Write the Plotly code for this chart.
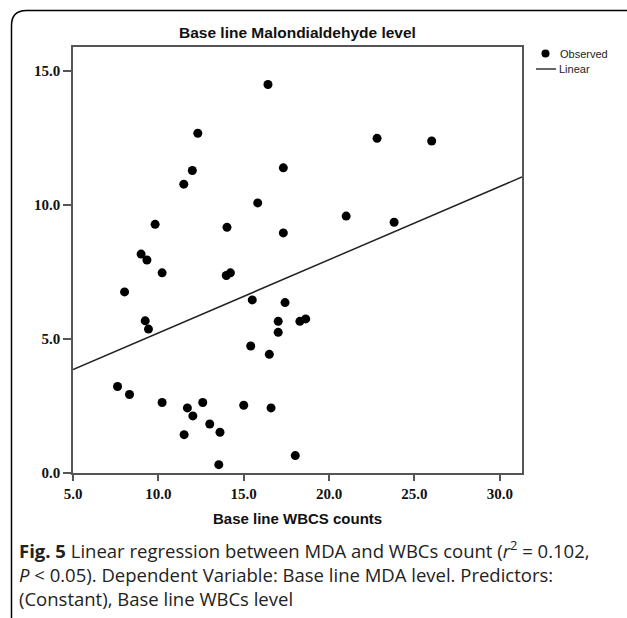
import plotly.graph_objects as go

# Observed points (Base line WBCS counts, Base line MDA level)
wbc = [16.42, 12.31, 11.99, 11.49, 17.32, 15.82, 21.0, 9.81, 14.02, 17.32,
       8.99, 9.33, 10.22, 13.98, 14.22, 8.02, 15.50, 17.42, 9.23, 9.42,
       17.02, 17.02, 18.29, 18.63, 15.41, 16.50, 7.61, 8.31, 10.22, 11.70,
       12.02, 12.60, 13.01, 11.51, 13.61, 13.54, 15.0, 16.60, 18.02, 22.81,
       26.01, 23.81]
mda = [14.50, 12.68, 11.29, 10.78, 11.39, 10.08, 9.59, 9.28, 9.17, 8.96,
       8.17, 7.95, 7.47, 7.37, 7.47, 6.76, 6.46, 6.36, 5.68, 5.37,
       5.66, 5.25, 5.66, 5.75, 4.74, 4.43, 3.23, 2.93, 2.63, 2.43,
       2.13, 2.63, 1.83, 1.43, 1.52, 0.31, 2.53, 2.43, 0.65, 12.49,
       12.39, 9.36]

# Linear fit line
line_x = [5.0, 31.3]
line_y = [3.86, 11.05]

x_ticks = [5, 10, 15, 20, 25, 30]
y_ticks = [0, 5, 10, 15]

title_text = "Base line Malondialdehyde level"
x_title = "Base line WBCS counts"
caption = [
    "<b>Fig. 5</b> Linear regression between MDA and WBCs count (<i>r</i><sup>2</sup> = 0.102,",
    "<i>P</i> < 0.05). Dependent Variable: Base line MDA level. Predictors:",
    "(Constant), Base line WBCs level",
]

W, H = 627, 618
L, R, T, B = 73, 522, 47, 473


def px(x):
    return (x - L) / (R - L)


def py(y):
    return (B - y) / (B - T)


fig = go.Figure()
fig.add_trace(go.Scatter(x=line_x, y=line_y, mode="lines",
                         line=dict(color="#222222", width=1.5),
                         name="Linear", showlegend=False))
fig.add_trace(go.Scatter(x=wbc, y=mda, mode="markers",
                         marker=dict(color="black", size=9),
                         name="Observed", showlegend=False))

tickfont = dict(family="Liberation Serif", size=15, color="#111111", weight="bold")
axcommon = dict(showgrid=False, zeroline=False, showline=True, linecolor="#555555",
                linewidth=1.5, mirror=True, ticks="outside", tickcolor="#555555",
                tickwidth=1.5, tickformat=".1f", tickfont=tickfont)

fig.update_xaxes(range=[5, 31.3], tickvals=x_ticks, ticklen=6, **axcommon)
fig.update_yaxes(range=[0, 15.9], tickvals=y_ticks, ticklen=8, ticklabelstandoff=0, **axcommon)

shapes = []
# rounded outer border
x0, yt = px(11.5), py(10.5)
xr = px(26.5)
yr = py(25.5)
shapes.append(dict(type="path", xref="paper", yref="paper",
                   path=f"M {x0},{py(640)} L {x0},{yr} Q {x0},{yt} {xr},{yt} L {px(640)},{yt}",
                   line=dict(color="black", width=1.5)))
# legend symbols
shapes.append(dict(type="circle", xref="paper", yref="paper", xsizemode="pixel",
                   ysizemode="pixel", xanchor=px(545.5), yanchor=py(53.5),
                   x0=-4, x1=4, y0=-4, y1=4, fillcolor="black",
                   line=dict(color="black", width=0)))
shapes.append(dict(type="line", xref="paper", yref="paper",
                   x0=px(536), x1=px(556), y0=py(69), y1=py(69),
                   line=dict(color="black", width=1.2)))

annotations = [
    dict(text=f"<b>{title_text}</b>", x=0.5, y=py(32), xref="paper", yref="paper",
         showarrow=False, xanchor="center", yanchor="middle",
         font=dict(family="Liberation Sans", size=15.5, color="#111111")),
    dict(text=f"<b>{x_title}</b>", x=0.5, y=py(518), xref="paper", yref="paper",
         showarrow=False, xanchor="center", yanchor="middle",
         font=dict(family="Liberation Sans", size=15, color="#111111")),
    dict(text="Observed", x=px(558), y=py(54.5), xref="paper", yref="paper",
         showarrow=False, xanchor="left", yanchor="middle",
         font=dict(family="Liberation Sans", size=11, color="#222222")),
    dict(text="Linear", x=px(557), y=py(69), xref="paper", yref="paper",
         showarrow=False, xanchor="left", yanchor="middle",
         font=dict(family="Liberation Sans", size=11, color="#222222")),
    dict(text="<br>".join(caption), x=px(17), y=py(573.5), xref="paper", yref="paper",
         showarrow=False, xanchor="left", yanchor="middle", align="left",
         font=dict(family="Open Sans", size=18.5, color="#222222")),
]

fig.update_layout(width=W, height=H, plot_bgcolor="white", paper_bgcolor="white",
                  margin=dict(l=L, r=W - R, t=T, b=H - B, autoexpand=False),
                  shapes=shapes, annotations=annotations, showlegend=False)

fig.write_html("out.html", config={"displayModeBar": False},
               post_script="document.body.style.margin='0';document.body.style.overflow='hidden';")
